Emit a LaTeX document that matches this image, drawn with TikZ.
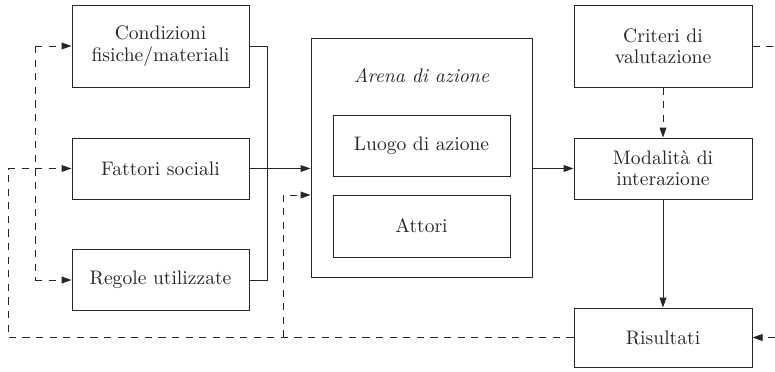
\documentclass[tikz,border=0pt]{standalone}
\usetikzlibrary{arrows.meta}
\begin{document}
\begin{tikzpicture}[x=0.5pt,y=-0.5pt,
  line width=0.5pt, color=black!85,
  every node/.style={font=\fontsize{9.8}{10.6}\selectfont},
  box/.style={draw, inner sep=0pt, align=center, minimum width=88.5pt},
  tip/.style={-{Triangle[length=5pt,width=3.4pt]}},
  dsh/.style={dash pattern=on 3.6pt off 3.2pt}]
\useasboundingbox (0,0) rectangle (775,371);
\clip (0,0) rectangle (775,371);

% left column: context factors
\node[box, minimum height=41pt] (cond) at (160.5,46) {Condizioni\\fisiche/materiali};
\node[box, minimum height=30.5pt] (fatt) at (160.5,168.5) {Fattori sociali};
\node[box, minimum height=30.5pt] (reg) at (160.5,280) {Regole utilizzate};

% action arena with its two components
\node[draw, minimum width=110.5pt, minimum height=119.5pt, inner sep=0pt] (arena) at (421.5,157.5) {};
\node (title) at (421.5,76) {\itshape Arena di azione};
\node[box, minimum height=30.5pt] (luogo) at (421.5,145.5) {Luogo di azione};
\node[box, minimum height=31pt] (attori) at (421.5,226) {Attori};

% right column
\node[box, minimum width=89pt, minimum height=41pt] (crit) at (663,46) {Criteri di\\valutazione};
\node[box, minimum width=89pt, minimum height=30.5pt] (mod) at (663,168.5) {Modalità di\\interazione};
\node[box, minimum width=89pt, minimum height=29.5pt] (ris) at (663,337.5) {Risultati};

% helper coordinates for the routed connectors
\coordinate (bus) at (267,0);
\coordinate (ltop) at (35,46);
\coordinate (lbot) at (35,280);
\coordinate (far) at (8,0);
\coordinate (join) at (283,195);
\coordinate (edge) at (795,0);

% solid flow
\draw (cond.east) -- (cond.east -| bus) -- (reg.east -| bus) -- (reg.east);
\draw[tip] (fatt.east) -- (fatt.east -| arena.west);
\draw[tip] (arena.east |- mod.west) -- (mod.west);
\draw[tip] (mod.south) -- (ris.north);

% dashed feedback
\draw[dsh] (ltop) -- (lbot);
\draw[dsh, tip] (ltop) -- (cond.west);
\draw[dsh, tip] (lbot) -- (reg.west);
\draw[dsh, tip] (ris.west) -- (ris.west -| far) |- (fatt.west);
\draw[dsh, tip] (ris.west -| join) -- (join) -- (join -| arena.west);
\draw[dsh, tip] (crit.south) -- (mod.north);
\draw[dsh, tip] (crit.east) -- (crit.east -| edge) -- (ris.east -| edge) -- (ris.east);
\end{tikzpicture}
\end{document}
